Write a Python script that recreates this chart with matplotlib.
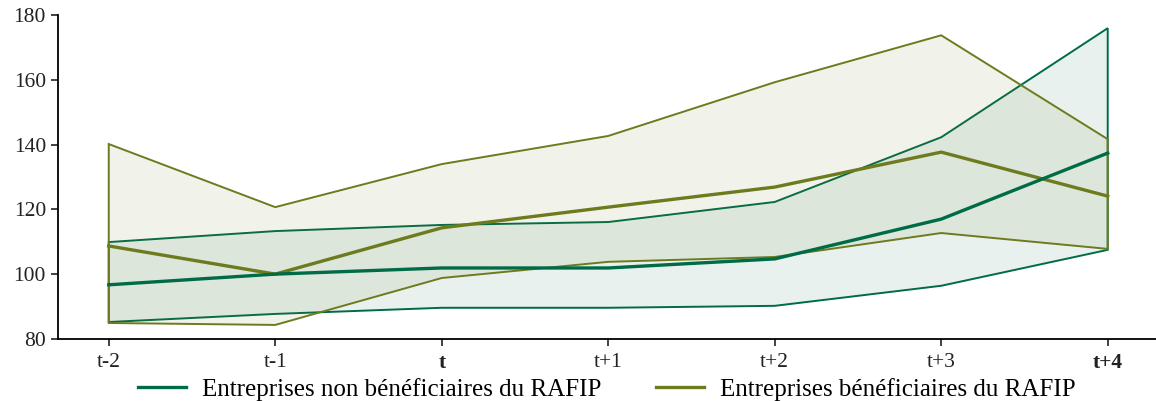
import numpy as np
import matplotlib
matplotlib.use('Agg')
import matplotlib.pyplot as plt

periods = ['t-2', 't-1', 't', 't+1', 't+2', 't+3', 't+4']
bold_ticks = {'t', 't+4'}

# non beneficiaires
non_mean = [96.7, 100.0, 101.9, 101.9, 104.7, 117.0, 137.4]
non_hi = [109.9, 113.3, 115.2, 116.1, 122.3, 142.3, 176.0]
non_lo = [85.2, 87.7, 89.6, 89.6, 90.2, 96.4, 107.5]

# beneficiaires
ben_mean = [108.7, 100.0, 114.3, 120.7, 126.9, 137.7, 124.1]
ben_hi = [140.2, 120.7, 134.0, 142.7, 159.3, 173.8, 141.7]
ben_lo = [84.9, 84.3, 98.8, 103.8, 105.3, 112.7, 107.8]

GREEN = '#006b47'
OLIVE = '#6e7a1e'

plt.rcParams['font.family'] = ['Liberation Serif', 'DejaVu Serif']

fig, ax = plt.subplots(figsize=(11.56, 4.01), dpi=100)
fig.subplots_adjust(left=0.05, right=1.0, top=0.962, bottom=0.155)

x = np.arange(len(periods))
xx = np.concatenate([x, x[::-1]])

ax.fill(xx, np.concatenate([non_hi, non_lo[::-1]]), facecolor=GREEN, alpha=0.09,
        edgecolor='none')
ax.fill(xx, np.concatenate([non_hi, non_lo[::-1]]), facecolor='none',
        edgecolor=GREEN, lw=1.4)
ax.fill(xx, np.concatenate([ben_hi, ben_lo[::-1]]), facecolor=OLIVE, alpha=0.09,
        edgecolor='none')
ax.fill(xx, np.concatenate([ben_hi, ben_lo[::-1]]), facecolor='none',
        edgecolor=OLIVE, lw=1.4)

ax.plot(x, ben_mean, color=OLIVE, lw=2.4)
ax.plot(x, non_mean, color=GREEN, lw=2.4)

h1, = ax.plot([], [], color=GREEN, lw=2.4, label='Entreprises non bénéficiaires du RAFIP')
h2, = ax.plot([], [], color=OLIVE, lw=2.4, label='Entreprises bénéficiaires du RAFIP')
ax.legend(handles=[h1, h2], loc='upper center', bbox_to_anchor=(0.5, -0.09),
          ncol=2, frameon=False, fontsize=18, handlelength=1.9, handletextpad=0.65,
          columnspacing=2.2, borderaxespad=0)

ax.set_xlim(-0.306, 6.29)
ax.set_ylim(80, 180)
ax.set_yticks([80, 100, 120, 140, 160, 180])
ax.set_xticks(x)
ax.set_xticklabels(periods)
for i, lab in enumerate(ax.get_xticklabels()):
    lab.set_fontweight('bold' if periods[i] in bold_ticks else 'normal')
ax.tick_params(labelsize=15.5, colors='#222222', length=5, width=1.2)
ax.tick_params(axis='x', pad=5)
ax.spines['top'].set_visible(False)
ax.spines['right'].set_visible(False)
ax.spines['left'].set_linewidth(1.3)
ax.spines['bottom'].set_linewidth(1.3)

fig.savefig('out.png', dpi=100)
